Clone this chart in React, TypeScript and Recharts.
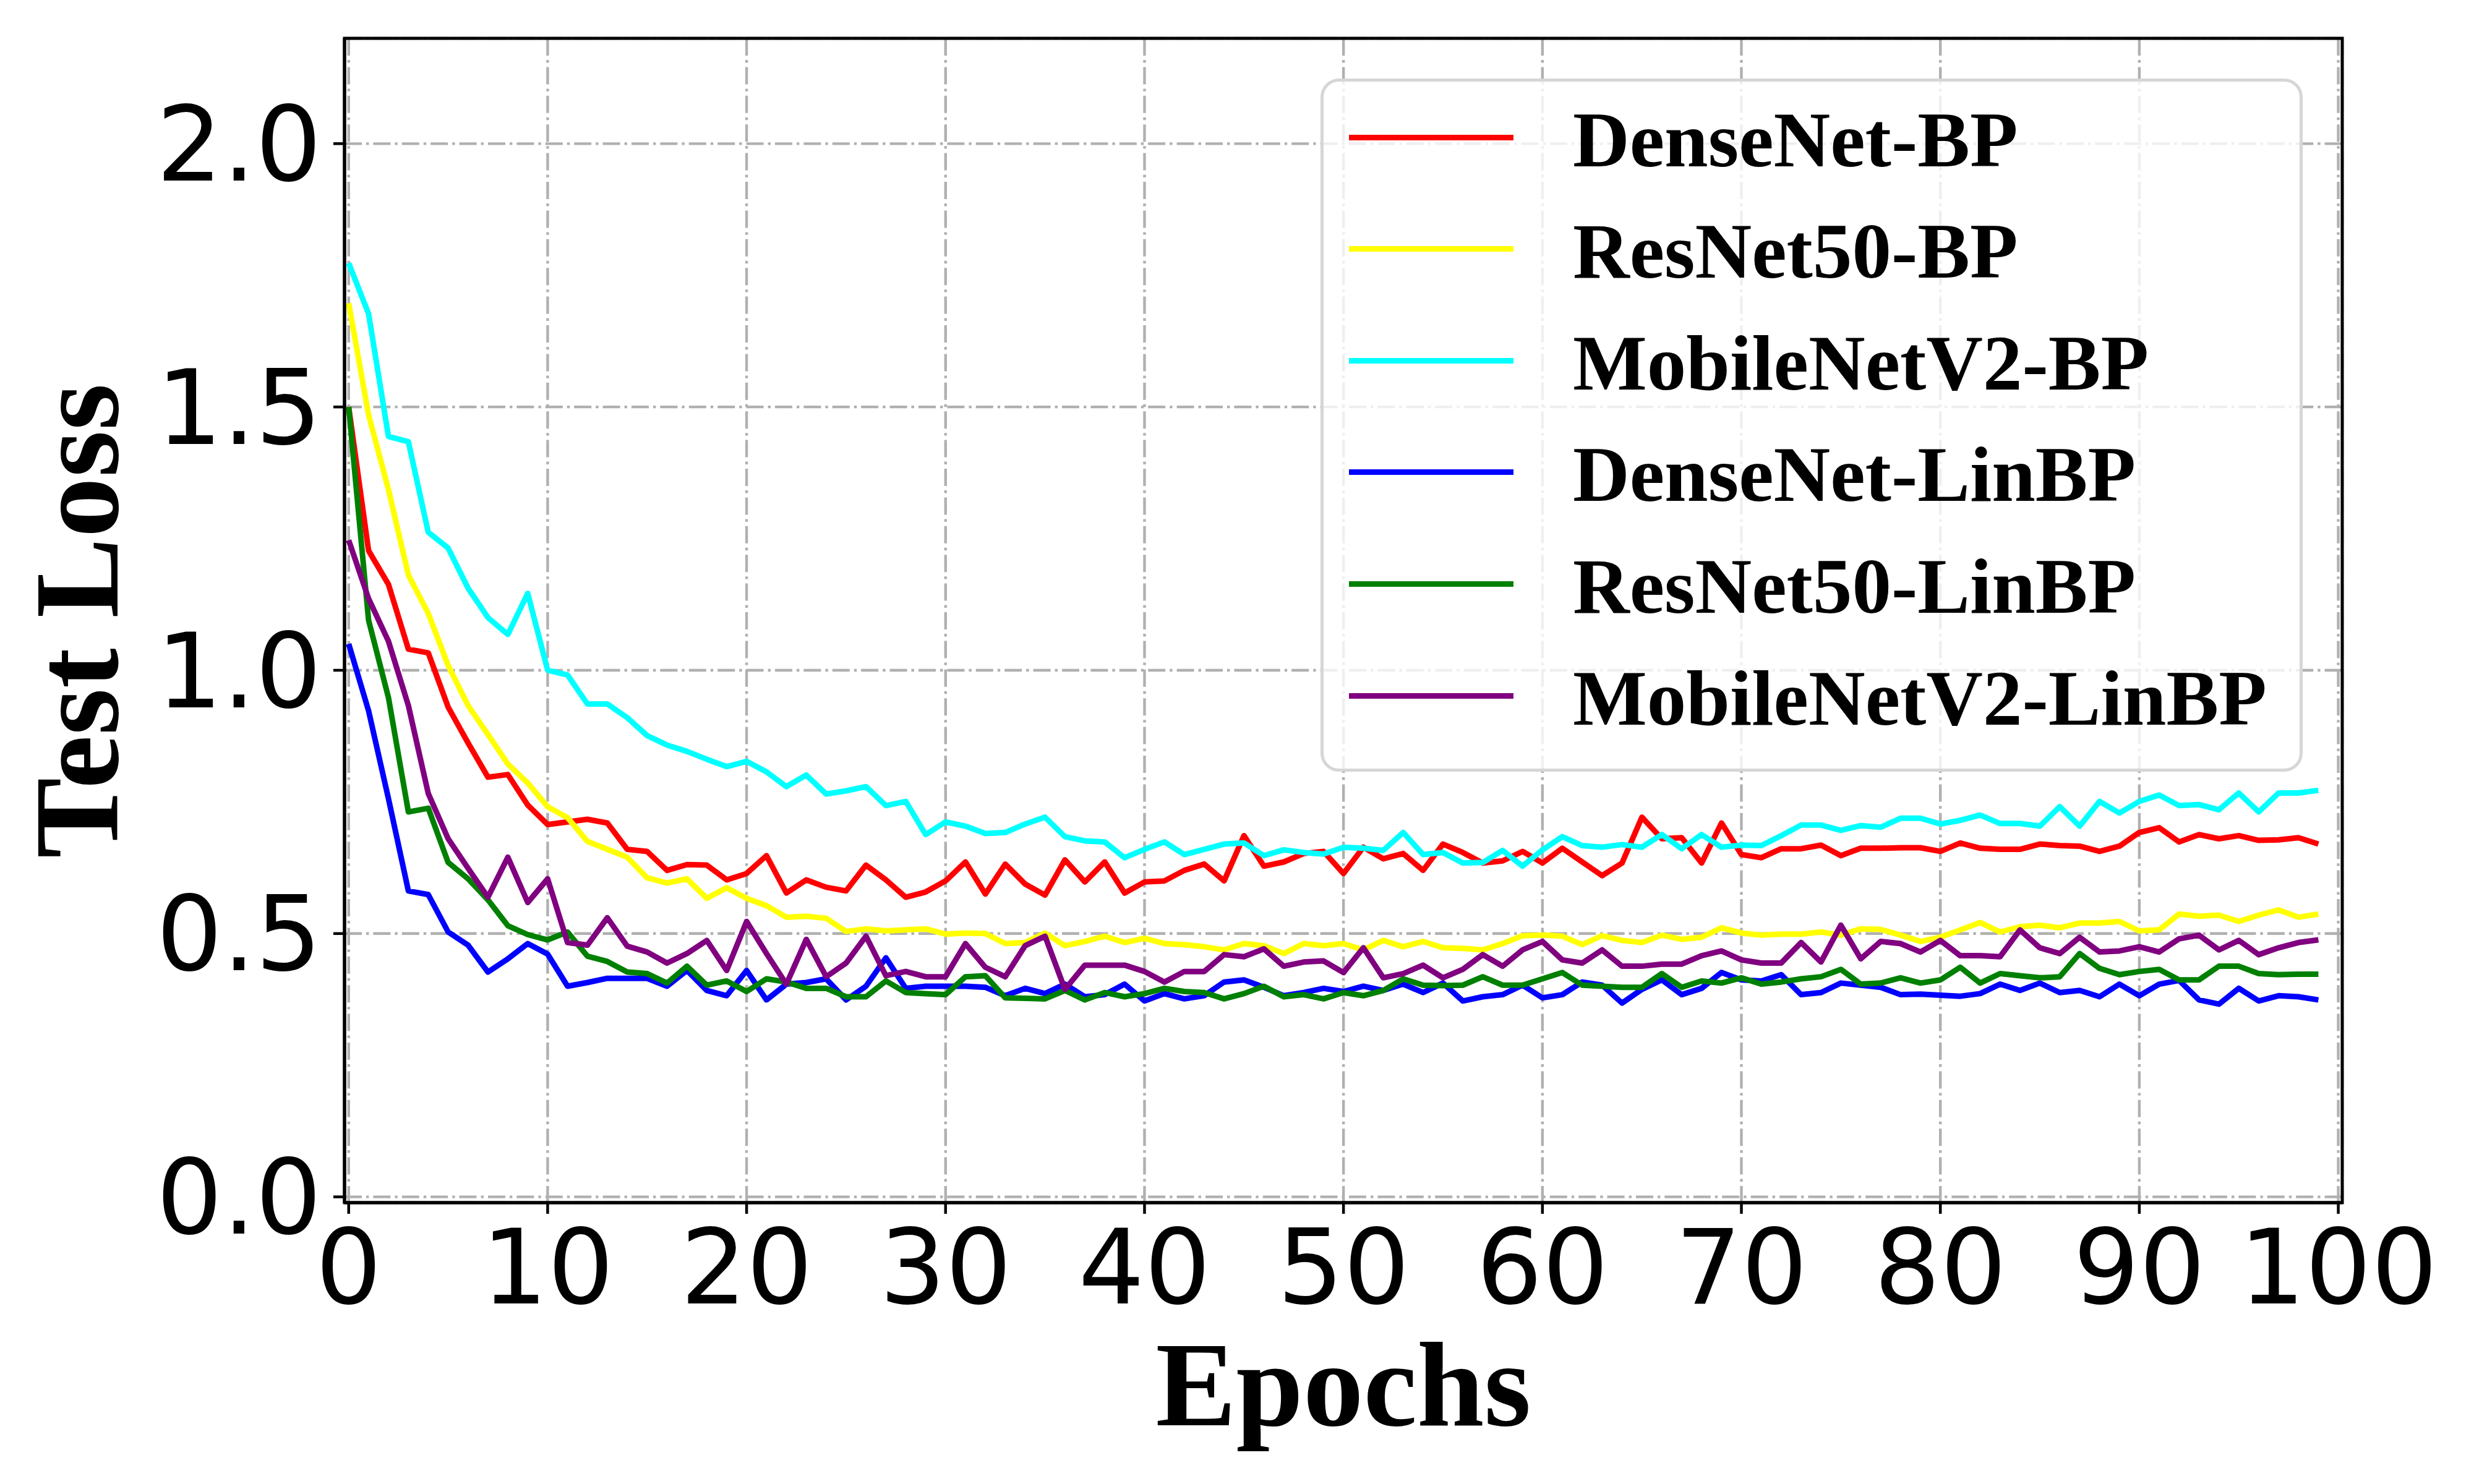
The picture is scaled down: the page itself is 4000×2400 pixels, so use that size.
import React from "react";
import {
  LineChart,
  Line,
  XAxis,
  YAxis,
  CartesianGrid,
  Legend,
  ReferenceArea,
  Label,
} from "recharts";

// test loss per epoch
const densenetBp = [
  1.5, 1.227, 1.163, 1.04, 1.033, 0.93, 0.862, 0.797, 0.802, 0.744,
  0.707, 0.712, 0.717, 0.71, 0.66, 0.656, 0.62, 0.631, 0.63, 0.602,
  0.614, 0.648, 0.577, 0.602, 0.588, 0.581, 0.63, 0.602, 0.569, 0.579,
  0.6, 0.636, 0.575, 0.632, 0.594, 0.573, 0.64, 0.598, 0.636, 0.577,
  0.598, 0.6, 0.62, 0.632, 0.6, 0.686, 0.628, 0.636, 0.652, 0.656,
  0.614, 0.664, 0.642, 0.652, 0.62, 0.67, 0.654, 0.634, 0.638, 0.656,
  0.634, 0.662, 0.636, 0.61, 0.634, 0.721, 0.68, 0.682, 0.634, 0.71,
  0.65, 0.644, 0.661, 0.661, 0.668, 0.648, 0.662, 0.662, 0.663, 0.663,
  0.656, 0.672, 0.662, 0.66, 0.66, 0.67, 0.667, 0.666, 0.656, 0.666,
  0.692, 0.701, 0.674, 0.688, 0.68, 0.686, 0.677, 0.678, 0.682, 0.67,
];

const resnet50Bp = [
  1.697, 1.485, 1.343, 1.181, 1.108, 1.009, 0.933, 0.878, 0.822, 0.786,
  0.741, 0.72, 0.675, 0.66, 0.645, 0.606, 0.596, 0.604, 0.567, 0.587,
  0.567, 0.553, 0.531, 0.533, 0.529, 0.504, 0.509, 0.505, 0.507, 0.509,
  0.499, 0.501, 0.5, 0.481, 0.483, 0.501, 0.477, 0.485, 0.495, 0.483,
  0.491, 0.481, 0.479, 0.475, 0.469, 0.481, 0.477, 0.462, 0.481, 0.477,
  0.481, 0.469, 0.487, 0.475, 0.485, 0.473, 0.472, 0.469, 0.481, 0.496,
  0.497, 0.495, 0.479, 0.496, 0.487, 0.483, 0.497, 0.489, 0.493, 0.511,
  0.501, 0.497, 0.499, 0.499, 0.503, 0.497, 0.509, 0.508, 0.497, 0.485,
  0.493, 0.507, 0.521, 0.503, 0.513, 0.516, 0.511, 0.52, 0.52, 0.523,
  0.505, 0.507, 0.537, 0.533, 0.535, 0.523, 0.535, 0.545, 0.531, 0.537,
];

const mobilenetV2Bp = [
  1.773, 1.677, 1.444, 1.434, 1.262, 1.232, 1.156, 1.1, 1.068, 1.146,
  1.0, 0.991, 0.936, 0.936, 0.91, 0.876, 0.858, 0.846, 0.831, 0.817,
  0.827, 0.807, 0.779, 0.801, 0.765, 0.771, 0.779, 0.743, 0.751, 0.688,
  0.712, 0.704, 0.69, 0.692, 0.708, 0.721, 0.684, 0.676, 0.674, 0.644,
  0.66, 0.674, 0.65, 0.66, 0.67, 0.672, 0.648, 0.659, 0.654, 0.651,
  0.664, 0.662, 0.658, 0.692, 0.65, 0.654, 0.634, 0.635, 0.658, 0.628,
  0.659, 0.684, 0.667, 0.664, 0.669, 0.664, 0.688, 0.661, 0.688, 0.664,
  0.668, 0.667, 0.686, 0.706, 0.706, 0.696, 0.705, 0.702, 0.719, 0.719,
  0.708, 0.715, 0.725, 0.709, 0.709, 0.704, 0.741, 0.704, 0.751, 0.729,
  0.751, 0.763, 0.743, 0.745, 0.735, 0.767, 0.731, 0.767, 0.767, 0.772,
];

const densenetLinBp = [
  1.05, 0.923, 0.756, 0.581, 0.574, 0.503, 0.478, 0.427, 0.452, 0.481,
  0.461, 0.4, 0.407, 0.415, 0.415, 0.415, 0.4, 0.43, 0.392, 0.382,
  0.43, 0.374, 0.404, 0.407, 0.414, 0.374, 0.4, 0.454, 0.396, 0.4,
  0.4, 0.4, 0.398, 0.382, 0.396, 0.386, 0.404, 0.38, 0.384, 0.404,
  0.372, 0.386, 0.376, 0.382, 0.408, 0.412, 0.398, 0.382, 0.388, 0.396,
  0.39, 0.4, 0.392, 0.404, 0.388, 0.406, 0.372, 0.38, 0.384, 0.402,
  0.378, 0.384, 0.408, 0.402, 0.368, 0.394, 0.412, 0.384, 0.396, 0.426,
  0.412, 0.41, 0.422, 0.384, 0.388, 0.406, 0.402, 0.398, 0.384, 0.385,
  0.383, 0.381, 0.386, 0.404, 0.392, 0.406, 0.388, 0.392, 0.38, 0.404,
  0.382, 0.404, 0.411, 0.374, 0.366, 0.396, 0.372, 0.382, 0.38, 0.374,
];

const resnet50LinBp = [
  1.5, 1.095, 0.948, 0.731, 0.738, 0.635, 0.604, 0.564, 0.515, 0.498,
  0.488, 0.503, 0.457, 0.447, 0.427, 0.424, 0.406, 0.438, 0.402, 0.41,
  0.39, 0.414, 0.408, 0.396, 0.396, 0.38, 0.38, 0.41, 0.388, 0.386,
  0.384, 0.418, 0.42, 0.378, 0.377, 0.376, 0.392, 0.374, 0.388, 0.38,
  0.386, 0.396, 0.39, 0.388, 0.376, 0.386, 0.4, 0.38, 0.384, 0.376,
  0.388, 0.382, 0.392, 0.414, 0.402, 0.401, 0.402, 0.418, 0.402, 0.402,
  0.414, 0.426, 0.402, 0.4, 0.398, 0.398, 0.424, 0.398, 0.41, 0.406,
  0.416, 0.404, 0.408, 0.414, 0.418, 0.432, 0.404, 0.406, 0.416, 0.406,
  0.412, 0.436, 0.406, 0.424, 0.42, 0.416, 0.418, 0.462, 0.434, 0.422,
  0.428, 0.432, 0.412, 0.412, 0.438, 0.438, 0.424, 0.422, 0.423, 0.423,
];

const mobilenetV2LinBp = [
  1.247, 1.136, 1.055, 0.933, 0.766, 0.68, 0.624, 0.569, 0.645, 0.559,
  0.604, 0.483, 0.478, 0.53, 0.476, 0.465, 0.444, 0.462, 0.487, 0.43,
  0.523, 0.462, 0.404, 0.489, 0.418, 0.444, 0.495, 0.42, 0.428, 0.418,
  0.418, 0.481, 0.436, 0.418, 0.477, 0.495, 0.394, 0.44, 0.44, 0.44,
  0.428, 0.408, 0.428, 0.428, 0.46, 0.456, 0.471, 0.438, 0.446, 0.448,
  0.426, 0.473, 0.416, 0.424, 0.44, 0.416, 0.432, 0.46, 0.438, 0.469,
  0.485, 0.45, 0.444, 0.469, 0.438, 0.438, 0.442, 0.442, 0.458, 0.467,
  0.45, 0.444, 0.444, 0.483, 0.446, 0.516, 0.452, 0.485, 0.481, 0.465,
  0.487, 0.458, 0.458, 0.456, 0.507, 0.473, 0.462, 0.493, 0.465, 0.467,
  0.475, 0.465, 0.49, 0.497, 0.469, 0.487, 0.46, 0.473, 0.483, 0.488,
];

const xTicks = [0, 10, 20, 30, 40, 50, 60, 70, 80, 90, 100];
const yTicks = [0, 0.5, 1.0, 1.5, 2.0];
const xDomain: [number, number] = [-0.21, 100.2];
const yDomain: [number, number] = [-0.011, 2.2];

const series = [
  { key: "densenetBp", name: "DenseNet-BP", color: "#ff0000", values: densenetBp },
  { key: "resnet50Bp", name: "ResNet50-BP", color: "#ffff00", values: resnet50Bp },
  { key: "mobilenetV2Bp", name: "MobileNetV2-BP", color: "#00ffff", values: mobilenetV2Bp },
  { key: "densenetLinBp", name: "DenseNet-LinBP", color: "#0000ff", values: densenetLinBp },
  { key: "resnet50LinBp", name: "ResNet50-LinBP", color: "#008000", values: resnet50LinBp },
  { key: "mobilenetV2LinBp", name: "MobileNetV2-LinBP", color: "#800080", values: mobilenetV2LinBp },
];

const data = densenetBp.map((_, epoch) => {
  const row: Record<string, number> = { epoch };
  series.forEach((s) => {
    row[s.key] = s.values[epoch];
  });
  return row;
});

const serif = "'Liberation Serif', 'Times New Roman', serif";
const sans = "'DejaVu Sans', sans-serif";

function LegendBox() {
  const border = 5;
  return (
    <div
      style={{
        position: "relative",
        width: 1588,
        height: 1121,
        boxSizing: "border-box",
        border: `${border}px solid #d6d6d6`,
        borderRadius: 30,
        background: "rgba(255,255,255,0.8)",
      }}
    >
      {series.map((s, i) => {
        const cy = 95 + i * 180.6 - border;
        return (
          <React.Fragment key={s.key}>
            <div
              style={{
                position: "absolute",
                left: 46 - border,
                top: cy - 4.5,
                width: 266,
                height: 9,
                background: s.color,
              }}
            />
            <div
              style={{
                position: "absolute",
                left: 408 - border,
                top: cy - 63.5 + 4,
                height: 127,
                lineHeight: "127px",
                fontSize: 127,
                fontFamily: serif,
                fontWeight: "bold",
                color: "#000",
                whiteSpace: "nowrap",
              }}
            >
              {s.name}
            </div>
          </React.Fragment>
        );
      })}
    </div>
  );
}

export default function App() {
  return (
    <div style={{ position: "absolute", left: 0, top: 0, background: "#fff" }}>
      <LineChart
        width={4000}
        height={2400}
        data={data}
        margin={{ top: 62, right: 213, left: 0, bottom: 0 }}
      >
        <CartesianGrid
          stroke="#b0b0b0"
          strokeWidth={4.4}
          strokeDasharray="28 7 4.4 7"
        />
        <XAxis
          dataKey="epoch"
          type="number"
          domain={xDomain}
          ticks={xTicks}
          allowDataOverflow
          height={455}
          tickSize={18}
          tickMargin={26}
          axisLine={{ stroke: "#000", strokeWidth: 5 }}
          tickLine={{ stroke: "#000", strokeWidth: 4.5 }}
          tick={{ fontSize: 168, fontFamily: sans, fill: "#000" }}
        >
          <Label
            content={() => (
              <text
                x={2172}
                y={2305}
                textAnchor="middle"
                fontSize={195}
                fontFamily={serif}
                fontWeight="bold"
                fill="#000"
              >
                Epochs
              </text>
            )}
          />
        </XAxis>
        <YAxis
          type="number"
          domain={yDomain}
          ticks={yTicks}
          allowDataOverflow
          width={557}
          tickSize={18}
          tickMargin={19}
          tickFormatter={(v: number) => v.toFixed(1)}
          axisLine={{ stroke: "#000", strokeWidth: 5 }}
          tickLine={{ stroke: "#000", strokeWidth: 4.5 }}
          tick={{ fontSize: 168, fontFamily: sans, fill: "#000" }}
        >
          <Label
            content={() => (
              <text
                x={190}
                y={1004}
                transform="rotate(-90, 190, 1004)"
                textAnchor="middle"
                fontSize={195}
                fontFamily={serif}
                fontWeight="bold"
                fill="#000"
              >
                Test Loss
              </text>
            )}
          />
        </YAxis>
        {series.map((s) => (
          <Line
            key={s.key}
            type="linear"
            dataKey={s.key}
            name={s.name}
            stroke={s.color}
            strokeWidth={9}
            strokeLinejoin="round"
            dot={false}
            activeDot={false}
            isAnimationActive={false}
          />
        ))}
        <ReferenceArea
          x1={xDomain[0]}
          x2={xDomain[1]}
          y1={yDomain[0]}
          y2={yDomain[1]}
          fill="none"
          stroke="#000"
          strokeWidth={5}
          ifOverflow="visible"
        />
        <Legend
          layout="horizontal"
          verticalAlign="middle"
          align="center"
          content={() => <LegendBox />}
          wrapperStyle={{ position: "absolute", left: 2135, top: 127, width: 1588, height: 1121 }}
        />
      </LineChart>
    </div>
  );
}
